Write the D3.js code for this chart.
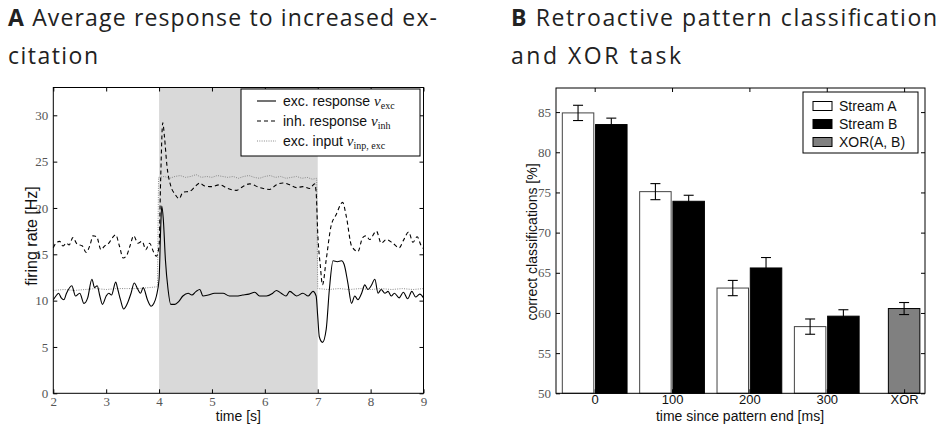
<!DOCTYPE html>
<html>
<head>
<meta charset="utf-8">
<script src="https://cdn.jsdelivr.net/npm/d3@7"></script>
<style>
  body { margin: 0; background: #fff; }
  svg { display: block; }
  .title { font-family: "Open Sans", Lato, sans-serif; font-size: 23px; fill: #222; }
  .serif-tick text { font-family: "Liberation Serif", serif; font-size: 13px; fill: #555; }
  .sans-tick text { font-family: "Liberation Sans", Arial, sans-serif; font-size: 13px; fill: #111; }
  .axis path { display: none; }
  .axis line { stroke: #000; }
  .lab { font-family: "Liberation Sans", Arial, sans-serif; font-size: 14px; fill: #111; }
  .leg { font-family: "Liberation Sans", Arial, sans-serif; font-size: 14px; fill: #111; }
</style>
</head>
<body>
<svg id="chart" width="944" height="428"></svg>
<script>
// ---- panel A: average firing rates ----
var excT = [2.0,2.05,2.1,2.15,2.2,2.25,2.35,2.42,2.5,2.58,2.65,2.73,2.78,2.83,2.88,2.93,3.0,3.05,3.1,3.18,3.22,3.27,3.33,3.4,3.47,3.53,3.6,3.65,3.7,3.78,3.85,3.9,3.95,
  4.0,4.03,4.05,4.08,4.12,4.17,4.22,4.3,4.37,4.45,4.55,4.62,4.7,4.77,4.83,4.93,5.05,5.21,5.33,5.46,5.58,5.7,5.81,5.9,6.03,6.15,6.22,6.31,6.4,6.47,6.6,6.72,6.82,6.91,6.97,
  7.0,7.03,7.09,7.16,7.22,7.29,7.37,7.45,7.5,7.57,7.64,7.7,7.76,7.83,7.89,7.95,8.01,8.08,8.14,8.2,8.27,8.33,8.39,8.45,8.54,8.62,8.7,8.78,8.85,8.93,9.0];
var excV = [10.1,10.5,10.8,10.3,10.1,10.8,11.6,10.5,10.8,9.7,10.3,12.3,11.4,11.6,10.5,9.6,10.5,10.8,10.6,12.0,11.2,10.1,9.1,9.7,10.8,11.9,11.2,10.8,11.4,10.1,9.4,9.7,10.5,
  12.3,17.7,20.2,18.8,14.4,11.2,9.6,9.6,9.9,10.5,10.8,10.6,11.0,11.2,10.5,10.6,10.8,10.8,10.5,10.5,10.6,10.7,10.9,10.5,10.5,10.8,11.1,10.8,10.5,11.0,10.5,10.8,10.5,11.0,10.5,
  8.3,6.1,5.5,6.9,11.2,14.3,14.2,14.3,13.9,11.9,9.7,10.5,10.1,10.8,11.7,11.2,11.6,12.3,10.8,11.2,10.8,11.0,10.5,10.8,10.3,10.9,10.2,11.0,10.4,10.7,10.3];

var inhT = [2.0,2.05,2.12,2.18,2.25,2.3,2.37,2.45,2.55,2.62,2.7,2.75,2.82,2.9,2.97,3.05,3.12,3.18,3.25,3.32,3.38,3.45,3.52,3.6,3.68,3.75,3.82,3.9,3.95,
  4.0,4.03,4.07,4.1,4.15,4.22,4.3,4.38,4.45,4.58,4.68,4.77,4.85,4.99,5.14,5.3,5.46,5.58,5.71,5.9,6.09,6.22,6.34,6.47,6.6,6.72,6.85,6.94,6.97,
  7.0,7.05,7.09,7.16,7.25,7.35,7.47,7.54,7.64,7.76,7.85,7.92,7.98,8.11,8.2,8.3,8.42,8.54,8.62,8.72,8.8,8.88,8.95,9.0];
var inhV = [15.7,16.2,16.4,15.9,16.2,16.0,16.8,16.1,15.9,15.2,16.1,17.0,16.9,15.5,15.9,16.2,16.8,17.1,15.9,14.6,14.8,15.9,17.0,16.2,16.4,15.5,16.2,15.2,14.8,
  15.9,23.1,29.2,27.8,24.5,22.4,21.5,21.0,21.7,21.8,22.3,22.7,22.4,22.3,22.5,22.1,21.9,22.3,22.6,22.2,22.0,22.5,22.7,22.5,22.2,22.3,22.1,22.6,21.7,
  17.3,13.7,11.7,14.4,18.0,19.3,20.6,19.1,15.9,15.3,16.8,17.0,16.6,17.5,16.2,16.6,16.2,15.7,16.5,17.4,16.3,16.9,16.0,15.6];

var inpT = [2.0,2.2,2.4,2.6,2.8,3.0,3.2,3.4,3.6,3.8,3.97,
  3.99,4.1,4.2,4.3,4.4,4.5,4.6,4.7,4.8,4.9,5.0,5.1,5.2,5.3,5.4,5.5,5.6,5.7,5.8,5.9,6.0,6.1,6.2,6.3,6.4,6.5,6.6,6.7,6.8,6.9,6.98,
  7.0,7.2,7.4,7.6,7.8,8.0,8.2,8.4,8.6,8.8,9.0];
var inpV = [11.1,11.2,11.1,11.2,11.3,11.2,11.3,11.3,11.3,11.4,11.5,
  23.3,23.4,23.2,23.4,23.5,23.3,23.4,23.6,23.3,23.4,23.3,23.5,23.4,23.3,23.4,23.2,23.4,23.5,23.3,23.2,23.4,23.5,23.3,23.4,23.2,23.3,23.4,23.2,23.3,23.1,23.2,
  11.3,11.2,11.3,11.2,11.3,11.2,11.3,11.2,11.3,11.2,11.3];

var stimWindow = [4, 7];
var timeTicks = [2,3,4,5,6,7,8,9];
var rateTicks = [0,5,10,15,20,25,30];

// ---- panel B: classification performance ----
var delays = ["0","100","200","300","XOR"];
var streamA = [84.9, 75.1, 63.1, 58.3];
var streamAErr = [0.95, 1.0, 0.95, 0.95];
var streamB = [83.45, 73.9, 65.6, 59.6];
var streamBErr = [0.8, 0.75, 1.3, 0.8];
var xorVal = [60.55];
var xorErr = [0.75];
var pctTicks = [50,55,60,65,70,75,80,85];

var svg = d3.select("#chart");

// titles (LaTeX sans set wide, so stretch to the measured widths)
function title(x, lines, letter, widths) {
  var t = svg.append("text").attr("class", "title")
    .attr("x", x).attr("y", 26)
    .attr("textLength", widths[0]).attr("lengthAdjust", "spacing");
  t.append("tspan").style("font-weight", "bold").text(letter);
  t.append("tspan").text(" " + lines[0]);
  svg.append("text").attr("class", "title").attr("x", x).attr("y", 64)
    .attr("textLength", widths[1]).attr("lengthAdjust", "spacing")
    .text(lines[1]);
}
title(8, ["Average response to increased ex-", "citation"], "A", [429, 90]);
title(511, ["Retroactive pattern classification", "and XOR task"], "B", [426, 170]);

// ================= panel A =================
var ax = {left: 53.3, right: 423.5, top: 87.5, bottom: 393.3};
var xA = d3.scaleLinear().domain([2, 9]).range([ax.left, ax.right]);
var yA = d3.scaleLinear().domain([0, 33]).range([ax.bottom, ax.top]);

var gA = svg.append("g");
gA.append("rect")
  .attr("x", xA(stimWindow[0])).attr("y", ax.top)
  .attr("width", xA(stimWindow[1]) - xA(stimWindow[0]))
  .attr("height", ax.bottom - ax.top)
  .attr("fill", "#d9d9d9");

var line = d3.line().curve(d3.curveMonotoneX);
function series(T, V) { return T.map(function(t, i) { return [xA(t), yA(V[i])]; }); }

gA.append("path").attr("d", d3.line()(series(inpT, inpV)))
  .attr("fill", "none").attr("stroke", "#888").attr("stroke-width", 1)
  .attr("stroke-dasharray", "1,1.3");
gA.append("path").attr("d", line(series(inhT, inhV)))
  .attr("fill", "none").attr("stroke", "#000").attr("stroke-width", 1.1)
  .attr("stroke-dasharray", "4,3");
gA.append("path").attr("d", line(series(excT, excV)))
  .attr("fill", "none").attr("stroke", "#000").attr("stroke-width", 1.1);

gA.append("g").attr("class", "axis serif-tick")
  .attr("transform", "translate(0," + ax.bottom + ")")
  .call(d3.axisBottom(xA).tickValues(timeTicks).tickFormat(d3.format("d"))
    .tickSizeInner(-4).tickSizeOuter(0).tickPadding(3));
gA.append("g").attr("class", "axis")
  .attr("transform", "translate(0," + ax.top + ")")
  .call(d3.axisTop(xA).tickValues(timeTicks).tickSizeInner(-4).tickSizeOuter(0).tickFormat(""));
gA.append("g").attr("class", "axis serif-tick")
  .attr("transform", "translate(" + ax.left + ",0)")
  .call(d3.axisLeft(yA).tickValues(rateTicks).tickFormat(d3.format("d"))
    .tickSizeInner(-4).tickSizeOuter(0).tickPadding(5));
gA.append("g").attr("class", "axis")
  .attr("transform", "translate(" + ax.right + ",0)")
  .call(d3.axisRight(yA).tickValues(rateTicks).tickSizeInner(-4).tickSizeOuter(0).tickFormat(""));
gA.append("rect")
  .attr("x", ax.left).attr("y", ax.top)
  .attr("width", ax.right - ax.left).attr("height", ax.bottom - ax.top)
  .attr("fill", "none").attr("stroke", "#000");

gA.append("text").attr("class", "lab")
  .attr("transform", "translate(37,236) rotate(-90)")
  .style("font-size", "16px")
  .attr("text-anchor", "middle").text("firing rate [Hz]");
gA.append("text").attr("class", "lab")
  .attr("x", (ax.left + ax.right) / 2).attr("y", 421)
  .attr("text-anchor", "middle").text("time [s]");

// legend A
var legA = gA.append("g").attr("transform", "translate(241,89)");
legA.append("rect").attr("width", 179).attr("height", 67)
  .attr("fill", "#fff").attr("stroke", "#000");
var legItems = [
  {label: "exc. response ", sub: "exc", dash: null, color: "#000", w: 1.1},
  {label: "inh. response ", sub: "inh", dash: "4,3", color: "#000", w: 1.1},
  {label: "exc. input ", sub: "inp, exc", dash: "1,1.3", color: "#888", w: 1}
];
legItems.forEach(function(d, i) {
  var y = 12 + i * 20;
  legA.append("line").attr("x1", 16).attr("x2", 35).attr("y1", y).attr("y2", y)
    .attr("stroke", d.color).attr("stroke-width", d.w)
    .attr("stroke-dasharray", d.dash);
  var t = legA.append("text").attr("class", "leg").attr("x", 42).attr("y", y + 5);
  t.append("tspan").text(d.label);
  t.append("tspan").style("font-family", "'Liberation Serif', serif")
    .style("font-style", "italic").style("font-size", "15px").text("\u03bd");
  t.append("tspan").style("font-family", "'Liberation Serif', serif")
    .style("font-size", "10px").attr("dy", 3).text(d.sub);
});

// ================= panel B =================
var bx = {left: 556, right: 925, top: 88, bottom: 393.3};
var xB = d3.scaleLinear().domain([-0.5, 4.27]).range([bx.left, bx.right]);
var yB = d3.scaleLinear().domain([50, 88]).range([bx.bottom, bx.top]);
var barW = 0.407, off = 0.215;

var gB = svg.append("g");
var bars = [];
streamA.forEach(function(v, i) { bars.push({c: i - off, v: v, e: streamAErr[i], fill: "#fff", stroke: "#444"}); });
streamB.forEach(function(v, i) { bars.push({c: i + off, v: v, e: streamBErr[i], fill: "#000", stroke: "#000"}); });
xorVal.forEach(function(v, i) { bars.push({c: 4 + i, v: v, e: xorErr[i], fill: "#808080", stroke: "#000"}); });

gB.selectAll("rect.bar").data(bars).enter().append("rect")
  .attr("class", "bar")
  .attr("x", function(d) { return xB(d.c - barW / 2); })
  .attr("width", function(d) { return xB(barW) - xB(0); })
  .attr("y", function(d) { return yB(d.v); })
  .attr("height", function(d) { return yB(50) - yB(d.v); })
  .attr("fill", function(d) { return d.fill; })
  .attr("stroke", function(d) { return d.stroke; })
  .attr("stroke-width", 1);

var eb = gB.selectAll("g.err").data(bars).enter().append("g").attr("class", "err")
  .attr("stroke", "#000").attr("stroke-width", 1.1);
eb.append("line")
  .attr("x1", function(d) { return xB(d.c); }).attr("x2", function(d) { return xB(d.c); })
  .attr("y1", function(d) { return yB(d.v - d.e); }).attr("y2", function(d) { return yB(d.v + d.e); });
[1, -1].forEach(function(s) {
  eb.append("line")
    .attr("x1", function(d) { return xB(d.c) - 5; }).attr("x2", function(d) { return xB(d.c) + 5; })
    .attr("y1", function(d) { return yB(d.v + s * d.e); }).attr("y2", function(d) { return yB(d.v + s * d.e); });
});

gB.append("g").attr("class", "axis sans-tick")
  .attr("transform", "translate(0," + bx.bottom + ")")
  .call(d3.axisBottom(xB).tickValues(d3.range(delays.length)).tickFormat(function(d) { return delays[d]; })
    .tickSizeInner(-4).tickSizeOuter(0).tickPadding(1));
gB.append("g").attr("class", "axis")
  .attr("transform", "translate(0," + bx.top + ")")
  .call(d3.axisTop(xB).tickValues(d3.range(delays.length)).tickSizeInner(-4).tickSizeOuter(0).tickFormat(""));
gB.append("g").attr("class", "axis serif-tick")
  .attr("transform", "translate(" + bx.left + ",0)")
  .call(d3.axisLeft(yB).tickValues(pctTicks).tickSizeInner(-4).tickSizeOuter(0).tickPadding(5));
gB.append("g").attr("class", "axis")
  .attr("transform", "translate(" + bx.right + ",0)")
  .call(d3.axisRight(yB).tickValues(pctTicks).tickSizeInner(-4).tickSizeOuter(0).tickFormat(""));
gB.append("rect")
  .attr("x", bx.left).attr("y", bx.top)
  .attr("width", bx.right - bx.left).attr("height", bx.bottom - bx.top)
  .attr("fill", "none").attr("stroke", "#000");

gB.append("text").attr("class", "lab")
  .attr("transform", "translate(537,242) rotate(-90)")
  .attr("text-anchor", "middle").text("correct classifications [%]");
gB.append("text").attr("class", "lab")
  .attr("x", 740).attr("y", 421)
  .attr("text-anchor", "middle").text("time since pattern end [ms]");

// legend B
var legB = gB.append("g").attr("transform", "translate(803,92)");
legB.append("rect").attr("width", 115).attr("height", 61)
  .attr("fill", "#fff").attr("stroke", "#000");
var legBItems = [
  {label: "Stream A", fill: "#fff"},
  {label: "Stream B", fill: "#000"},
  {label: "XOR(A, B)", fill: "#808080"}
];
legBItems.forEach(function(d, i) {
  var y = 14 + i * 18;
  legB.append("rect").attr("x", 10).attr("y", y - 4.5).attr("width", 19).attr("height", 9)
    .attr("fill", d.fill).attr("stroke", "#000");
  legB.append("text").attr("class", "leg").attr("x", 36).attr("y", y + 5).text(d.label);
});
</script>
</body>
</html>
